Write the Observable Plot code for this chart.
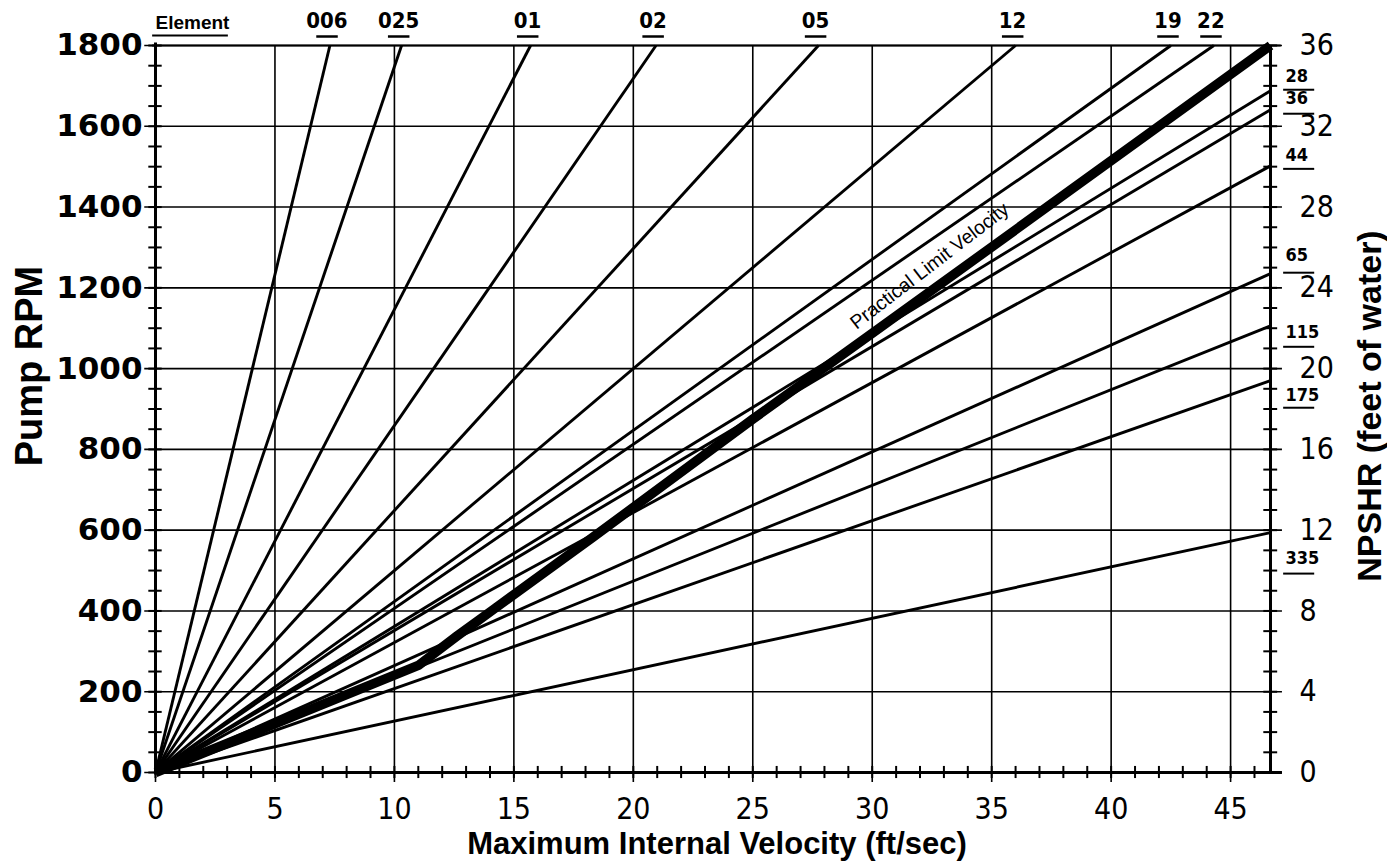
<!DOCTYPE html>
<html>
<head>
<meta charset="utf-8">
<script src="https://cdn.jsdelivr.net/npm/d3@7"></script>
<script src="https://cdn.jsdelivr.net/npm/@observablehq/plot@0.6"></script>
<style>
  html, body { margin: 0; padding: 0; background: #fff; }
  #chart svg { display: block; }
</style>
</head>
<body>
<div id="chart"></div>
<script>
// ---- data ----
const xMax = 46.67;                       // right edge of the velocity axis (ft/sec)
const yMax = 1800;                        // top of the RPM axis
const xTicks = [0, 5, 10, 15, 20, 25, 30, 35, 40, 45];
const yTicks = [0, 200, 400, 600, 800, 1000, 1200, 1400, 1600, 1800];
const npshrTicks = [0, 4, 8, 12, 16, 20, 24, 28, 32, 36];
const rpmPerNpshr = 50;

// elements whose lines leave the chart through the top (velocity at 1800 RPM)
const topElements = ["006", "025", "01", "02", "05", "12", "19", "22"];
const topVelocity = [7.3, 10.3, 15.7, 20.95, 27.75, 36.0, 42.5, 44.3];

// elements whose lines leave the chart through the right edge (RPM at max velocity)
const rightElements = ["28", "36", "44", "65", "115", "175", "335"];
const rightRpm = [1688, 1641, 1502, 1235, 1106, 970, 594];

// practical limit velocity curve
const limitVelocity = [0, 11, 12.6, 14.2, 18.3, 25, 30.3, 46.67];
const limitRpm = [0, 265, 337, 406, 582, 875, 1100, 1800];
const limitLabelVelocity = 32.4;

// ---- label layout (pixel nudges for the right-hand element labels) ----
const rightLabelDy = [-15, -11, -11, -18, 6, 15, 26];
const rightUnderlineDy = [-1, 4, 3, -1, 21, 27, 41];

// ---- derived tables ----
const rays = [
  ...topElements.map((e, i) => ({el: e, v: topVelocity[i], rpm: yMax})),
  ...rightElements.map((e, i) => ({el: e, v: xMax, rpm: rightRpm[i]}))
];
const topLabels = topElements.map((e, i) => ({el: e, v: topVelocity[i], rpm: yMax}));
const limitCurve = limitVelocity.map((v, i) => ({v, rpm: limitRpm[i]}));
const limitAt = v => {
  for (let i = 1; i < limitVelocity.length; i++) {
    if (v <= limitVelocity[i]) {
      const t = (v - limitVelocity[i - 1]) / (limitVelocity[i] - limitVelocity[i - 1]);
      return limitRpm[i - 1] + t * (limitRpm[i] - limitRpm[i - 1]);
    }
  }
  return limitRpm[limitRpm.length - 1];
};
const xMinor = d3.range(0, 47, 1);
const yMinor = d3.range(0, yMax + 1, 50);

const narrow = "'DejaVu Sans Condensed', 'Liberation Sans Narrow', 'Arial Narrow', sans-serif";
const sans = "'Liberation Sans', Arial, Helvetica, sans-serif";

const rightLabelMarks = rightElements.flatMap((e, i) => [
  Plot.text([{el: e, v: xMax, rpm: rightRpm[i]}], {x: "v", y: "rpm", text: "el", dx: 15, dy: rightLabelDy[i],
    textAnchor: "start", fontSize: 18, fontWeight: "bold", fontFamily: narrow, fill: "#000"}),
  Plot.ruleY([rightRpm[i]], {y: d => d, x1: xMax + 0.55, x2: xMax + 1.85, dy: rightUnderlineDy[i],
    stroke: "#000", strokeWidth: 2})
]);

const chart = Plot.plot({
  width: 1387,
  height: 861,
  marginLeft: 155,
  marginRight: 117,
  marginTop: 45,
  marginBottom: 89,
  x: {domain: [0, xMax], axis: null},
  y: {domain: [0, yMax], axis: null},
  style: {background: "#fff", color: "#000"},
  marks: [
    // vertical grid (extends slightly below axis)
    Plot.ruleX(xTicks, {x: d => d, y1: -25, y2: yMax, stroke: "#000", strokeWidth: 1.6}),
    // horizontal grid (extends slightly left and right)
    Plot.ruleY(yTicks, {y: d => d, x1: -0.45, x2: xMax + 0.5, stroke: "#000", strokeWidth: 1.6}),
    // top border line
    Plot.ruleY([yMax], {x1: -0.12, x2: xMax + 0.45, stroke: "#000", strokeWidth: 2.2}),
    // axes
    Plot.ruleX([0], {y1: -6, y2: yMax + 6, stroke: "#000", strokeWidth: 3}),
    Plot.ruleX([xMax], {y1: 0, y2: yMax, stroke: "#000", strokeWidth: 3}),
    Plot.ruleY([0], {x1: 0, x2: xMax + 0.5, stroke: "#000", strokeWidth: 3}),
    // minor ticks crossing the axes
    Plot.ruleY(yMinor, {y: d => d, x1: -0.28, x2: 0.28, stroke: "#000", strokeWidth: 2}),
    Plot.ruleY(yMinor, {y: d => d, x1: xMax - 0.28, x2: xMax + 0.3, stroke: "#000", strokeWidth: 2}),
    Plot.ruleX(xMinor, {x: d => d, y1: -15, y2: 15, stroke: "#000", strokeWidth: 2}),
    // element rays
    Plot.link(rays, {x1: () => 0, y1: () => 0, x2: "v", y2: "rpm", stroke: "#000", strokeWidth: 2.9}),
    // practical limit velocity
    Plot.line(limitCurve, {x: "v", y: "rpm", stroke: "#000", strokeWidth: 9.5, strokeLinejoin: "round", strokeLinecap: "butt"}),
    Plot.text([limitLabelVelocity], {x: d => d, y: d => limitAt(d), text: () => "Practical Limit Velocity",
      rotate: -37.5, dy: -26, fontSize: 19.5, fontFamily: sans, fill: "#000"}),
    // element labels along the top
    Plot.text(["Element"], {frameAnchor: "top-left", text: d => d, textAnchor: "start", lineAnchor: "middle", dy: -23,
      fontSize: 19, fontWeight: "bold", fontFamily: sans, fill: "#000"}),
    Plot.ruleY([yMax], {x1: -0.12, x2: 3.05, dy: -10, stroke: "#000", strokeWidth: 2}),
    Plot.text(topLabels, {x: "v", y: "rpm", text: "el", dx: -3, dy: -25, fontSize: 22, fontWeight: "bold",
      fontFamily: narrow, fill: "#000"}),
    Plot.ruleY(topLabels, {y: "rpm", x1: d => d.v - 0.55, x2: d => d.v + 0.35, dy: -9, stroke: "#000", strokeWidth: 2.5}),
    // element labels along the right edge
    ...rightLabelMarks,
    // left tick labels
    Plot.text(yTicks, {x: () => 0, y: d => d, text: d => String(d), textAnchor: "end", dx: -13,
      fontSize: 31, fontWeight: "bold", fontFamily: "'DejaVu Sans', sans-serif", fill: "#000"}),
    // right (NPSHR) tick labels
    Plot.text(npshrTicks, {x: () => xMax, y: d => d * rpmPerNpshr, text: d => String(d), textAnchor: "start", dx: 29,
      fontSize: 30, fontFamily: narrow, fill: "#000"}),
    // bottom tick labels
    Plot.text(xTicks, {x: d => d, y: () => 0, text: d => String(d), dy: 37,
      fontSize: 30, fontFamily: narrow, fill: "#000"}),
    // axis titles
    Plot.text(["Pump RPM"], {frameAnchor: "left", text: d => d, textAnchor: "middle", lineAnchor: "middle", rotate: -90, dx: -126, dy: -43,
      fontSize: 38, fontWeight: "bold", fontFamily: sans, fill: "#000"}),
    Plot.text(["NPSHR (feet of water)"], {frameAnchor: "right", text: d => d, textAnchor: "middle", lineAnchor: "middle", rotate: -90, dx: 100, dy: -3,
      fontSize: 34, fontWeight: "bold", fontFamily: sans, fill: "#000"}),
    Plot.text(["Maximum Internal Velocity (ft/sec)"], {frameAnchor: "bottom", text: d => d, textAnchor: "middle", lineAnchor: "middle", dx: 4, dy: 72,
      fontSize: 31, fontWeight: "bold", fontFamily: sans, fill: "#000"})
  ]
});

document.getElementById("chart").appendChild(chart);
</script>
</body>
</html>
